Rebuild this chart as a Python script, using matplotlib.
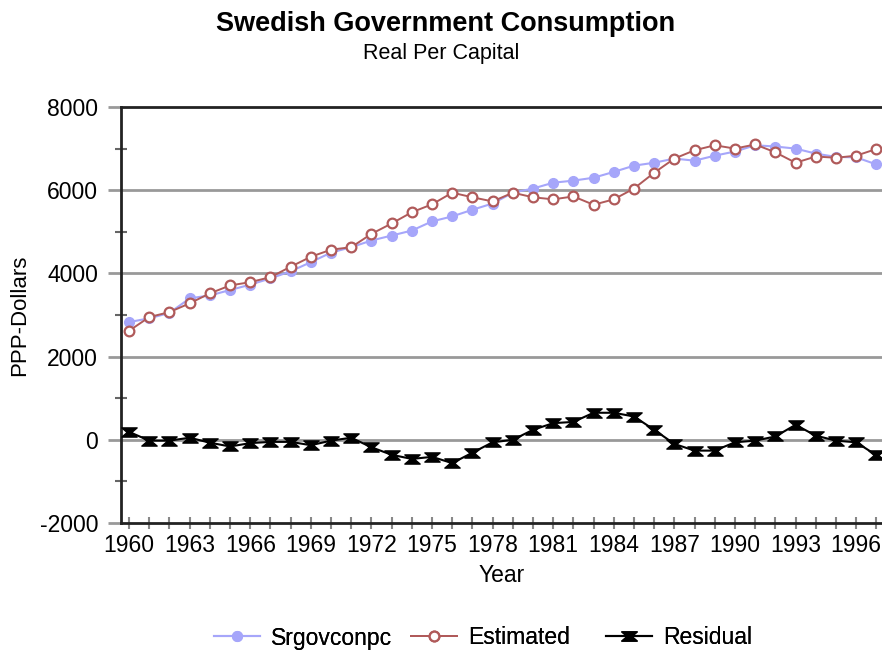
import numpy as np
import matplotlib
matplotlib.use('Agg')
import matplotlib.pyplot as plt
from matplotlib.path import Path

# values
years = list(range(1960, 1998))

srgovconpc = [2830, 2920, 3050, 3400, 3470, 3600, 3730, 3880, 4050, 4270,
              4500, 4630, 4790, 4910, 5030, 5250, 5370, 5530, 5680, 5940,
              6040, 6180, 6230, 6300, 6440, 6590, 6660, 6760, 6710, 6830,
              6930, 7080, 7050, 7000, 6880, 6800, 6790, 6620]

estimated = [2620, 2950, 3070, 3280, 3520, 3710, 3790, 3910, 4160, 4400,
             4570, 4630, 4950, 5200, 5470, 5660, 5940, 5830, 5730, 5940,
             5830, 5780, 5850, 5650, 5780, 6040, 6420, 6760, 6960, 7080,
             7000, 7100, 6910, 6660, 6810, 6780, 6830, 6990]

residual = [190, -20, -20, 50, -70, -160, -80, -50, -50, -130,
            -20, 50, -180, -360, -460, -410, -560, -310, -60, 0,
            240, 400, 430, 650, 650, 560, 240, -100, -260, -260,
            -60, -20, 80, 360, 100, -20, -60, -370]

label_years = list(range(1960, 1998, 3))

plt.rcParams['font.family'] = ['Liberation Sans', 'DejaVu Sans']
plt.rcParams['axes.unicode_minus'] = False

# hourglass marker for the residual series
hourglass = Path([(-1, 0.6), (1, 0.6), (0.3, 0), (1, -0.6), (-1, -0.6), (-0.3, 0), (-1, 0.6)],
                 [Path.MOVETO] + [Path.LINETO] * 5 + [Path.CLOSEPOLY])

fig = plt.figure(figsize=(8.82, 6.52), dpi=100)
ax = fig.add_axes([121 / 882, 1 - 523 / 652, 761 / 882, 416 / 652])

blue = '#a6a6fa'
red = '#b05a5a'

l1, = ax.plot(years, srgovconpc, color=blue, lw=1.5, marker='o', ms=7, mec=blue, mfc=blue,
              label='Srgovconpc', zorder=3)
l2, = ax.plot(years, estimated, color=red, lw=1.4, marker='o', ms=7, mec=red, mfc='white',
              mew=1.6, label='Estimated', zorder=4)
l3, = ax.plot(years, residual, color='black', lw=1.5, marker=hourglass, ms=11, mec='black',
              mfc='black', label='Residual', zorder=4)

ax.set_xlim(1959.6, 1997.28)
ax.set_ylim(-2000, 8000)

ax.set_yticks([-2000, 0, 2000, 4000, 6000, 8000])
ax.set_yticks([-1000, 1000, 3000, 5000, 7000], minor=True)
ax.set_xticks(label_years)
ax.set_xticks(years, minor=True)

for v in [0, 2000, 4000, 6000]:
    ax.axhline(v, color='#999999', lw=2, zorder=1)

ax.tick_params(axis='y', which='major', direction='out', length=9.5, width=2,
               color='#999999', labelsize=16.5, pad=7)
ax.tick_params(axis='y', which='minor', direction='inout', length=9, width=1.5,
               color='#666666')
ax.tick_params(axis='x', which='both', direction='inout', length=8, width=1.5,
               color='#888888', labelsize=16.5, pad=4)

for s in ['left', 'bottom', 'top']:
    ax.spines[s].set_linewidth(2)
    ax.spines[s].set_color('#222222')
ax.spines['right'].set_visible(False)

ax.set_xlabel('Year', fontsize=16.5, labelpad=5)
fig.text(20 / 882, 1 - 315 / 652, 'PPP-Dollars', rotation=90, fontsize=16,
         ha='center', va='center')

fig.text(446 / 882, 1 - 24 / 652, 'Swedish Government Consumption', fontsize=19.5,
         fontweight='bold', ha='center', va='center')
fig.text(441 / 882, 1 - 53 / 652, 'Real Per Capital', fontsize=15.5, ha='center', va='center')

# one legend per entry so the uneven spacing of the original can be kept
for handle, x0 in [(l1, 214), (l2, 411), (l3, 606)]:
    leg = fig.legend(handles=[handle], loc='center left', bbox_to_anchor=(x0 / 882, 1 - 638 / 652),
                     frameon=False, fontsize=16.5, handlelength=2.0, handletextpad=0.5,
                     borderpad=0, borderaxespad=0)
    fig.add_artist(leg)

fig.savefig('out.png', dpi=100)
